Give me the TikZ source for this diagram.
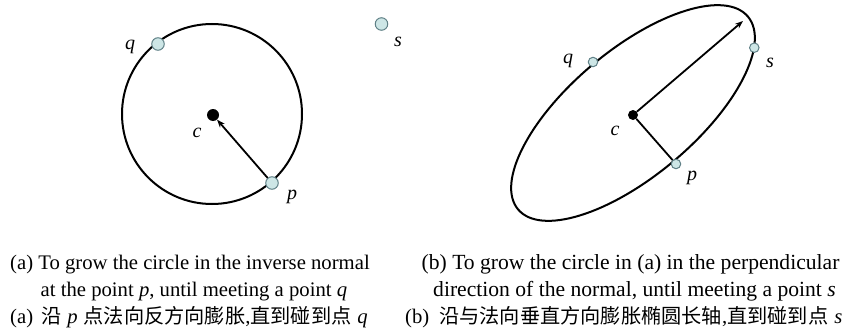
\documentclass[tikz,border=0pt]{standalone}
\usepackage{fontspec}
\setmainfont{Liberation Serif}
\newfontfamily\cjk{Noto Sans CJK SC}
\usetikzlibrary{arrows.meta}
\definecolor{ptfill}{HTML}{CDE6E6}
\definecolor{ptdraw}{HTML}{5F8086}
\tikzset{
  pt/.style={circle,fill=ptfill,draw=ptdraw,line width=1pt,inner sep=0pt,minimum size=#1},
  ctr/.style={circle,fill=black,inner sep=0pt,minimum size=#1},
  lbl/.style={font=\fontsize{20}{24}\selectfont\itshape,inner sep=0pt},
  captext/.style={font=\fontsize{20.7}{24}\selectfont,anchor=base west,inner sep=0pt},
  captextb/.style={font=\fontsize{21.6}{24}\selectfont,anchor=base west,inner sep=0pt},
  curve/.style={line width=2pt,black},
  arr/.style={line width=1.8pt,-{Stealth[length=8pt,width=6pt]}}
}
\newcommand{\zh}[1]{{\cjk\fontsize{20.2}{24}\selectfont #1}}
\begin{document}
\begin{tikzpicture}[x=1pt,y=-1pt]
\useasboundingbox (0,0) rectangle (851,329);
% ---- (a) ----
\coordinate (ac) at (212,114);
\draw[curve] (ac) circle[radius=90pt];
\node[ctr=12pt] (c1) at (213,115) {};
\node[pt=12.5pt] (p1) at (272,183) {};
\node[pt=12.5pt] (q1) at (158,44) {};
\node[pt=12.5pt] (s1) at (381.5,24) {};
\draw[arr] (p1) -- (c1);
\node[lbl] (lq1) at (130,47) {q};
\node[lbl] (ls1) at (398,42) {s};
\node[lbl] (lc1) at (197,133) {c};
\node[lbl] (lp1) at (292,197) {p};
% ---- (b) ----
\coordinate (bc) at (633,113);
\draw[curve,rotate around={40:(bc)}] (bc) ellipse[x radius=150pt,y radius=63pt];
\node[ctr=10pt] (c2) at (633,115) {};
\node[pt=9.5pt] (p2) at (676,164) {};
\node[pt=9.5pt] (q2) at (593,62) {};
\node[pt=9.5pt] (s2) at (754.3,47.7) {};
\coordinate (tip) at (743,21);
\draw[arr] (c2) -- (tip);
\draw[line width=1.8pt] (p2) -- (c2);
\node[lbl] (lq2) at (568,61) {q};
\node[lbl] (ls2) at (770,63) {s};
\node[lbl] (lc2) at (615,131) {c};
\node[lbl] (lp2) at (692,178) {p};
% ---- captions ----
\node[captext] (a1) at (10,269) {(a) To grow the circle in the inverse normal};
\node[captext] (a2) at (40.5,296) {at the point \textit{p}, until meeting a point \textit{q}};
\node[captext] (a3) at (10,323) {(a)\hspace{8pt}\zh{沿}\hspace{6pt}\textit{p}\hspace{6pt}\zh{点法向反方向膨胀},\zh{直到碰到点}\hspace{6pt}\textit{q}};
\node[captextb] (b1) at (421.5,269) {(b) To grow the circle in (a) in the perpendicular};
\node[captextb] (b2) at (433,296) {direction of the normal, until meeting a point \textit{s}};
\node[captext] (b3) at (405,323) {(b)\hspace{10pt}\zh{沿与法向垂直方向膨胀椭圆长轴},\zh{直到碰到点}\hspace{6pt}\textit{s}};
\end{tikzpicture}
\end{document}
